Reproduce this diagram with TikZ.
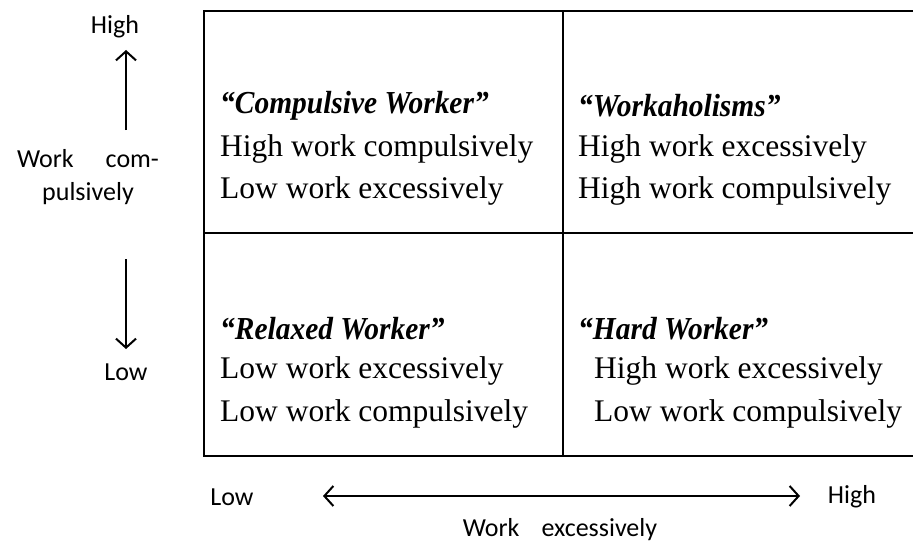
\documentclass[tikz,border=0pt]{standalone}
\usepackage{fontspec}
\setmainfont{Liberation Serif}
\newfontfamily\labfont{Carlito}
\newfontfamily\ttlfont[FakeStretch=0.92]{Liberation Serif Bold Italic}
\usetikzlibrary{arrows.meta}
\tikzset{
  grid/.style={line width=2pt, line cap=rect},
  axis/.style={line width=2pt, -{Straight Barb[length=9pt,width=20pt,line width=2pt]}},
  biaxis/.style={line width=2pt, {Straight Barb[length=9pt,width=20pt,line width=2pt]}-{Straight Barb[length=9pt,width=20pt,line width=2pt]}},
  lab/.style={font=\labfont\fontsize{26}{33}\selectfont, inner sep=0pt, align=center},
  ttl/.style={font=\ttlfont\fontsize{32}{36}\selectfont, inner sep=0pt, anchor=west},
  txt/.style={font=\fontsize{31.5}{36}\selectfont, inner sep=0pt, anchor=west},
}
\begin{document}
\begin{tikzpicture}[x=1pt,y=-1pt]
\useasboundingbox (0,0) rectangle (913,543);
% grid
\coordinate (tl) at (204,11);
\coordinate (tr) at (915,11);
\coordinate (ml) at (204,232.5);
\coordinate (mr) at (915,232.5);
\coordinate (bl) at (204,456);
\coordinate (br) at (915,456);
\coordinate (vt) at (563,11);
\coordinate (vb) at (563,456);
\draw[grid] (tr) -- (tl) -- (bl) -- (br);
\draw[grid] (ml) -- (mr);
\draw[grid] (vt) -- (vb);
% quadrant texts
\node[ttl] (q1t) at (220,106) {“Compulsive Worker”};
\node[txt] (q1a) at (220,149) {High work compulsively};
\node[txt] (q1b) at (220,191) {Low work excessively};
\node[ttl] (q2t) at (578,106) {“Workaholisms”};
\node[txt] (q2a) at (578,149) {High work excessively};
\node[txt] (q2b) at (578,191) {High work compulsively};
\node[ttl] (q3t) at (220,329) {“Relaxed Worker”};
\node[txt] (q3a) at (220,371) {Low work excessively};
\node[txt] (q3b) at (220,414) {Low work compulsively};
\node[ttl] (q4t) at (578,329) {“Hard Worker”};
\node[txt] (q4a) at (594,371) {High work excessively};
\node[txt] (q4b) at (594,414) {Low work compulsively};
% vertical axis
\node[lab] (vhigh) at (115,27) {High};
\node[lab] (vlab) at (88,177) {Work\hspace{32pt}com-\\pulsively};
\node[lab] (vlow) at (126,372) {Low};
\coordinate (ua0) at (126,130);
\coordinate (ua1) at (126,50);
\coordinate (da0) at (126,259);
\coordinate (da1) at (126,349);
\draw[axis] (ua0) -- (ua1);
\draw[axis] (da0) -- (da1);
% horizontal axis
\node[lab] (hlow) at (232,497) {Low};
\node[lab] (hhigh) at (852,497) {High};
\node[lab] (hlab) at (560,530) {Work\hspace{22pt}excessively};
\coordinate (ha0) at (323,496);
\coordinate (ha1) at (800,496);
\draw[biaxis] (ha0) -- (ha1);
\end{tikzpicture}
\end{document}
